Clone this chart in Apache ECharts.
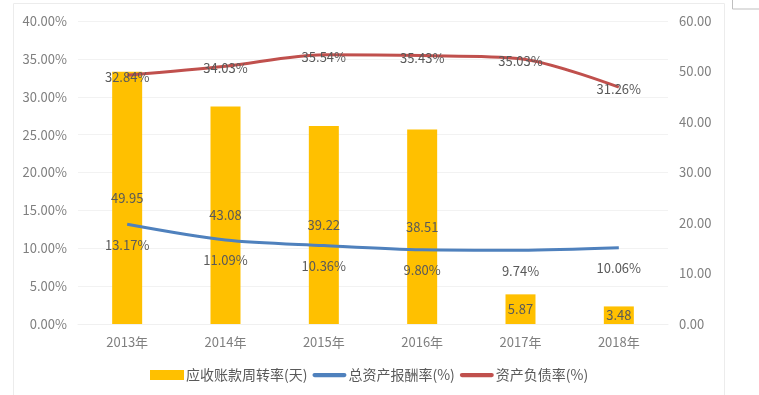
<!DOCTYPE html>
<html><head><meta charset="utf-8">
<script src="https://cdn.jsdelivr.net/npm/echarts@6/dist/echarts.min.js"></script>
<style>html,body{margin:0;padding:0;background:#fff}#c{width:759px;height:395px}</style>
</head><body><div id="c"></div>
<script>
var categories = ['2013年','2014年','2015年','2016年','2017年','2018年'];
var turnoverDays = [49.95, 43.08, 39.22, 38.51, 5.87, 3.48];
var assetReturn = [13.17, 11.09, 10.36, 9.80, 9.74, 10.06];
var debtRatio = [32.84, 34.03, 35.54, 35.43, 35.03, 31.26];
var seriesNames = ['应收账款周转率(天)', '总资产报酬率(%)', '资产负债率(%)'];

var FONT = '"Noto Sans CJK SC", "Microsoft YaHei", sans-serif';
var LINE_ICON = 'path://M2,0 h28 a2,2 0 0 1 0,4 h-28 a2,2 0 0 1 0,-4 z';
var chart = echarts.init(document.getElementById('c'));
chart.setOption({
  animation: false,
  textStyle: {fontFamily: FONT},
  graphic: [
    {type: 'rect', shape: {x: 13.5, y: 3.5, width: 711, height: 400}, style: {fill: 'none', stroke: '#ececec', lineWidth: 1}},
    {type: 'rect', shape: {x: 732.5, y: -1, width: 40, height: 10}, style: {fill: 'none', stroke: '#bfbfbf', lineWidth: 1}}
  ],
  grid: {left: 78, right: 91, top: 21, bottom: 71},
  legend: {
    bottom: 8, left: 145, itemGap: 5, itemWidth: 34, itemHeight: 10,
    textStyle: {color: '#595959', fontSize: 14, fontFamily: FONT, padding: [0, 0, 0, -3]},
    data: [
      {name: seriesNames[0], icon: 'rect'},
      {name: seriesNames[1], icon: LINE_ICON},
      {name: seriesNames[2], icon: LINE_ICON}
    ]
  },
  xAxis: {
    type: 'category', data: categories,
    axisLine: {show: true, lineStyle: {color: '#f0f0f0'}},
    axisTick: {show: false},
    axisLabel: {color: '#7f7f7f', fontSize: 13, margin: 12}
  },
  yAxis: [
    {
      type: 'value', min: 0, max: 40, interval: 5,
      axisLabel: {color: '#7f7f7f', fontSize: 13, margin: 11, formatter: function(v){return v.toFixed(2)+'%';}},
      axisLine: {show: false}, axisTick: {show: false},
      splitLine: {lineStyle: {color: '#f2f2f2', width: 1}}
    },
    {
      type: 'value', min: 0, max: 60, interval: 10,
      axisLabel: {color: '#7f7f7f', fontSize: 13, margin: 11, formatter: function(v){return v.toFixed(2);}},
      axisLine: {show: false}, axisTick: {show: false},
      splitLine: {show: false}
    }
  ],
  series: [
    {
      name: seriesNames[0], type: 'bar', yAxisIndex: 1, data: turnoverDays,
      barWidth: 30, itemStyle: {color: '#FFC000'},
      label: {show: true, position: 'inside', color: '#595959', fontSize: 13, formatter: function(p){return p.value.toFixed(2);}}
    },
    {
      name: seriesNames[1], type: 'line', yAxisIndex: 0, data: assetReturn, smooth: 0.3,
      symbol: 'circle', symbolSize: 0.1, showSymbol: true,
      lineStyle: {color: '#4F81BD', width: 3}, itemStyle: {color: '#4F81BD'},
      label: {show: true, position: 'bottom', distance: 14, color: '#595959', fontSize: 13, formatter: function(p){return p.value.toFixed(2)+'%';}}
    },
    {
      name: seriesNames[2], type: 'line', yAxisIndex: 0, data: debtRatio, smooth: 0.3,
      symbol: 'circle', symbolSize: 0.1, showSymbol: true,
      lineStyle: {color: '#C0504D', width: 3}, itemStyle: {color: '#C0504D'},
      label: {show: true, position: 'inside', offset: [0, 2], color: '#595959', fontSize: 13, formatter: function(p){return p.value.toFixed(2)+'%';}}
    }
  ]
});
</script></body></html>
